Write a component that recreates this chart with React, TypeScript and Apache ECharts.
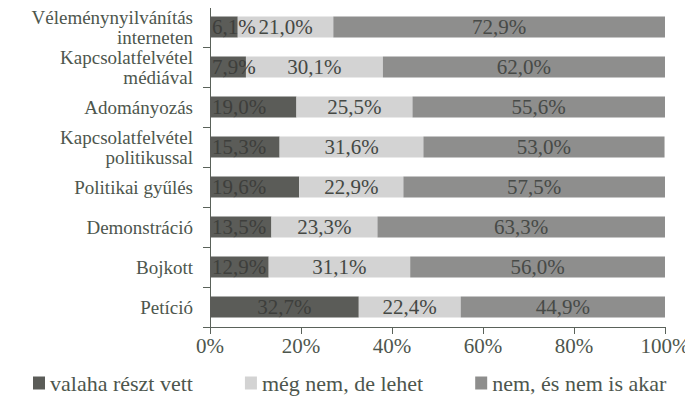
import React, { useEffect, useRef } from "react";
import * as echarts from "echarts";

const categories = [
  "Véleménynyilvánítás\ninterneten",
  "Kapcsolatfelvétel\nmédiával",
  "Adományozás",
  "Kapcsolatfelvétel\npolitikussal",
  "Politikai gyűlés",
  "Demonstráció",
  "Bojkott",
  "Petíció",
];
const seriesNames = ["valaha részt vett", "még nem, de lehet", "nem, és nem is akar"];
const participated = [6.1, 7.9, 19.0, 15.3, 19.6, 13.5, 12.9, 32.7];
const possible = [21.0, 30.1, 25.5, 31.6, 22.9, 23.3, 31.1, 22.4];
const never = [72.9, 62.0, 55.6, 53.0, 57.5, 63.3, 56.0, 44.9];
const xTicks = [0, 20, 40, 60, 80, 100];

const FONT = "Liberation Serif";
const TEXT = "#4d564d";
const AXIS = "#5a625a";

export default function App() {
  const ref = useRef<HTMLDivElement>(null);
  useEffect(() => {
    if (!ref.current) return;
    const chart = echarts.init(ref.current, null, { renderer: "svg" });
    const fmt = (p: any) => Number(p.value).toFixed(1).replace(".", ",") + "%";
    const labelBase = {
      show: true,
      formatter: fmt,
      fontFamily: FONT,
      fontSize: 21,
      color: "#444844",
    };
    chart.setOption({
      animation: false,
      backgroundColor: "#ffffff",
      grid: { left: 210, right: 28, top: 7, bottom: 77 },
      legend: {
        left: 28,
        top: 367,
        itemWidth: 12,
        itemHeight: 13,
        itemGap: 52,
        icon: "rect",
        textStyle: { fontFamily: FONT, fontSize: 22, color: TEXT },
        data: seriesNames,
      },
      xAxis: {
        type: "value",
        min: 0,
        max: 100,
        interval: 20,
        splitLine: { show: false },
        axisLine: { show: true, lineStyle: { color: AXIS, width: 1 } },
        axisTick: { show: true, length: 7, lineStyle: { color: AXIS } },
        axisLabel: {
          fontFamily: FONT,
          fontSize: 21,
          color: TEXT,
          margin: 8,
          formatter: (v: number) => (xTicks.includes(v) ? v + "%" : ""),
        },
      },
      yAxis: {
        type: "category",
        inverse: true,
        data: categories,
        axisLine: { show: true, lineStyle: { color: AXIS, width: 1 } },
        axisTick: { show: true, length: 7, lineStyle: { color: AXIS } },
        axisLabel: {
          interval: 0,
          fontFamily: FONT,
          fontSize: 19,
          lineHeight: 20,
          color: TEXT,
          margin: 17,
          align: "right",
        },
      },
      series: [
        {
          name: seriesNames[0],
          type: "bar",
          stack: "total",
          barWidth: 21,
          itemStyle: { color: "#5b5c58" },
          label: { ...labelBase, position: "insideLeft", distance: 2, color: "#3e3f3c" },
          data: participated.map((v, i) =>
            i === participated.length - 1
              ? { value: v, label: { position: "inside" } }
              : v
          ),
        },
        {
          name: seriesNames[1],
          type: "bar",
          stack: "total",
          barWidth: 21,
          itemStyle: { color: "#d3d3d3" },
          label: { ...labelBase, position: "inside" },
          data: possible,
        },
        {
          name: seriesNames[2],
          type: "bar",
          stack: "total",
          barWidth: 21,
          itemStyle: { color: "#8e8e8d" },
          label: { ...labelBase, position: "inside", color: "#474a47" },
          data: never,
        },
      ],
    });
    return () => chart.dispose();
  }, []);
  return <div ref={ref} style={{ width: 693, height: 404, margin: -8 }} />;
}
